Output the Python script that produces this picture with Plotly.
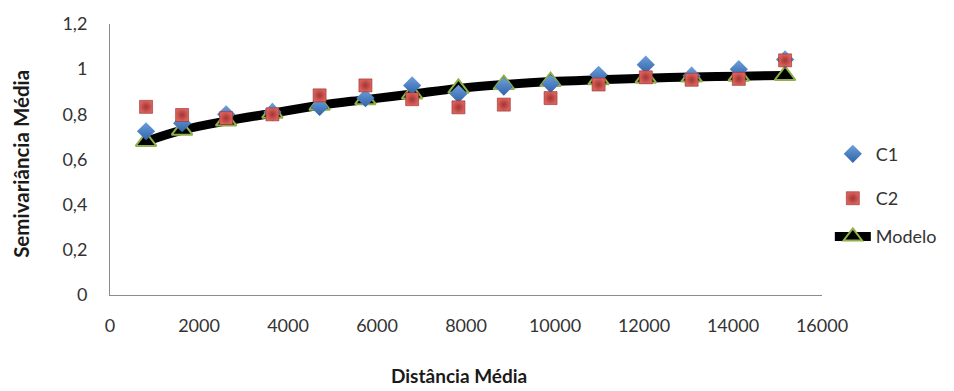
import plotly.graph_objects as go

# Average lag distance for each class
distancia = [810, 1620, 2610, 3650, 4710, 5740, 6790, 7830, 8850, 9900,
             10980, 12040, 13070, 14130, 15170]
# Experimental semivariances
c1 = [0.725, 0.761, 0.80, 0.81, 0.833, 0.872, 0.928, 0.891, 0.923, 0.935,
      0.975, 1.02, 0.971, 1.0, 1.043]
c2 = [0.833, 0.797, 0.783, 0.80, 0.884, 0.928, 0.867, 0.831, 0.843, 0.872,
      0.932, 0.964, 0.953, 0.957, 1.039]
# Fitted model
modelo = [0.68, 0.73, 0.77, 0.805, 0.84, 0.865, 0.89, 0.915, 0.932, 0.945,
          0.953, 0.96, 0.965, 0.969, 0.972]

x_ticks = [0, 2000, 4000, 6000, 8000, 10000, 12000, 14000, 16000]
x_tick_labels = ["0", "2000", "4000", "6000", "8000", "10000", "12000", "14000", "16000"]
y_ticks = [0, 0.2, 0.4, 0.6, 0.8, 1.0, 1.2]
y_tick_labels = ["0", "0,2", "0,4", "0,6", "0,8", "1", "1,2"]

FONT = "Lato, 'Open Sans', sans-serif"
TICK_COLOR = "#333333"

fig = go.Figure()

fig.add_trace(go.Scatter(
    x=distancia, y=modelo, name="Modelo", mode="lines+markers",
    line=dict(color="black", width=9, shape="spline"),
    marker=dict(symbol="triangle-up", size=18, color="black",
                line=dict(color="#8fb04a", width=2)),
    legend="legend3",
))
fig.add_trace(go.Scatter(
    x=distancia, y=c1, name="C1", mode="markers",
    marker=dict(symbol="diamond", size=14, color="#6f9fdc",
                gradient=dict(type="vertical", color="#2f64a8"),
                line=dict(width=0)),
    legend="legend",
))
fig.add_trace(go.Scatter(
    x=distancia, y=c2, name="C2", mode="markers",
    marker=dict(symbol="square", size=13, color="#d9625e",
                gradient=dict(type="radial", color="#a53431"),
                line=dict(color="#9b2f2c", width=0.6)),
    legend="legend2",
))

legend_common = dict(
    xanchor="left", yanchor="middle", bgcolor="rgba(0,0,0,0)",
    font=dict(family=FONT, size=18, color=TICK_COLOR),
    itemwidth=36,
)

fig.update_layout(
    width=954, height=391,
    margin=dict(l=110, r=129, t=20, b=96),
    paper_bgcolor="white", plot_bgcolor="white",
    font=dict(family=FONT, size=18, color=TICK_COLOR),
    showlegend=True,
    legend=dict(x=1.011, y=0.52, **legend_common),
    legend2=dict(x=1.011, y=0.356, **legend_common),
    legend3=dict(x=1.011, y=0.215, **legend_common),
    xaxis=dict(range=[0, 16000], tickvals=x_ticks, ticktext=x_tick_labels,
               showline=True, linecolor="#8c8c8c", linewidth=1,
               showgrid=False, zeroline=False, ticks="",
               ticklabelstandoff=14,
               tickfont=dict(family=FONT, size=18, color=TICK_COLOR)),
    yaxis=dict(range=[0, 1.2], tickvals=y_ticks, ticktext=y_tick_labels,
               showline=True, linecolor="#8c8c8c", linewidth=1,
               showgrid=False, zeroline=False, ticks="",
               ticklabelstandoff=18,
               tickfont=dict(family=FONT, size=18, color=TICK_COLOR)),
    annotations=[
        dict(text="<b>Distância Média</b>", xref="paper", yref="paper",
             x=0.49, y=-0.298, showarrow=False, xanchor="center", yanchor="middle",
             font=dict(family=FONT, size=19, color="#1a1a1a")),
        dict(text="<b>Semivariância Média</b>", xref="paper", yref="paper",
             x=-0.126, y=0.485, showarrow=False, xanchor="center", yanchor="middle",
             textangle=-90, font=dict(family=FONT, size=20.5, color="#1a1a1a")),
    ],
)

fig.write_html("out.html")
